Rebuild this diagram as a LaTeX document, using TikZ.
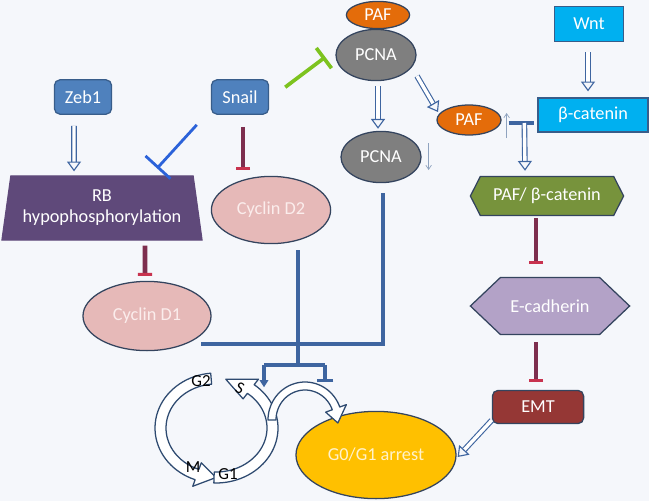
\documentclass[tikz,border=0pt]{standalone}
\usepackage{fontspec}
\setmainfont{Carlito}
\usepackage{xcolor}
\usepackage{tikz}
\usetikzlibrary{arrows.meta, calc, shapes.geometric, shapes.symbols}

\definecolor{bgcol}{HTML}{F5F7FB}
\definecolor{boxblue}{HTML}{4F81BD}
\definecolor{edgeblue}{HTML}{385D8A}
\definecolor{outline}{HTML}{34445E}
\definecolor{rbpurple}{HTML}{5F497A}
\definecolor{cycpink}{HTML}{E6B9B8}
\definecolor{cyctext}{HTML}{FBEDEC}
\definecolor{pcnagray}{HTML}{7F7F7F}
\definecolor{paforange}{HTML}{E46C0A}
\definecolor{wntcyan}{HTML}{00B0F0}
\definecolor{complexgreen}{HTML}{77933C}
\definecolor{ecadlilac}{HTML}{B3A2C7}
\definecolor{emtred}{HTML}{953735}
\definecolor{arrestyellow}{HTML}{FFC000}
\definecolor{arresttext}{HTML}{FFF2CC}
\definecolor{linkblue}{HTML}{3E65A0}
\definecolor{inhibmaroon}{HTML}{7D2E4E}
\definecolor{barred}{HTML}{C8334F}
\definecolor{snailblue}{HTML}{2B62D9}
\definecolor{pcnagreen}{HTML}{7DC31F}
\definecolor{thingray}{HTML}{8FA3BF}
\definecolor{cycleedge}{HTML}{2E4A70}

\tikzset{
  lab/.style={font=\fontsize{13}{15}\selectfont, text=white, inner sep=1pt, line width=0.9pt},
  genebox/.style={lab, rectangle, rounded corners=4pt, draw=edgeblue, fill=boxblue, minimum width=1.43cm, minimum height=0.86cm},
  wntbox/.style={lab, rectangle, draw=edgeblue, fill=wntcyan, minimum width=1.73cm, minimum height=0.88cm},
  pafoval/.style={lab, ellipse, draw=outline, fill=paforange, minimum width=1.58cm, minimum height=0.68cm},
  pcnaoval/.style={lab, ellipse, draw=outline, fill=pcnagray, minimum width=2cm, minimum height=1.28cm},
  cyclinoval/.style={lab, ellipse, draw=outline, fill=cycpink, text=cyctext, minimum width=2.98cm, minimum height=1.68cm},
  rbbox/.style={lab, trapezium, trapezium angle=77, trapezium stretches body, draw=rbpurple, fill=rbpurple, align=center, minimum width=5cm, minimum height=1.6cm},
  hexbox/.style={lab, signal, signal to=east and west, draw=outline},
  emtbox/.style={lab, rectangle, rounded corners=4pt, draw=outline, fill=emtred, minimum width=2.28cm, minimum height=0.83cm},
  arrestoval/.style={lab, ellipse, draw=outline, fill=arrestyellow, text=arresttext, minimum width=4cm, minimum height=2.18cm},
  phase/.style={font=\fontsize{12}{14}\selectfont, text=black, inner sep=0pt},
  hollow/.style={draw=linkblue, line width=0.8pt, double=white, double distance=2.4pt, -{Triangle[open, length=7pt, width=10pt]}},
  inhib/.style={draw=inhibmaroon, line width=3.4pt, -{Bar[width=10pt, line width=2pt, color=barred]}},
  snailinhib/.style={draw=snailblue, line width=2pt, -{Bar[width=24pt]}},
  pcnainhib/.style={draw=pcnagreen, line width=2.6pt, -{Bar[width=18pt]}},
  bluebar/.style={draw=linkblue, line width=2.6pt},
  thinarrow/.style={draw=thingray, line width=0.5pt, -{Straight Barb[length=3pt, width=4pt]}},
  cyc/.style={draw=cycleedge, fill=white, line width=0.9pt, line join=round}
}

% curved block arrow: start, end, tip angle, outer rx, outer ry, inner rx, inner ry
\newcommand{\cyclearrow}[7]{%
  \draw[cyc] plot[domain=#1:#2, samples=40] ({#4*cos(\x)},{#5*sin(\x)})
    -- ({(#4+7)*cos(#2)},{(#5+7)*sin(#2)})
    -- ({(#4+#6)/2*cos(#3)},{(#5+#7)/2*sin(#3)})
    -- ({(#6-7)*cos(#2)},{(#7-7)*sin(#2)})
    -- plot[domain=#2:#1, samples=40] ({#6*cos(\x)},{#7*sin(\x)}) -- cycle;}

\begin{document}
\begin{tikzpicture}[x=0.025cm, y=-0.025cm]
    \fill[bgcol] (0,0) rectangle (649,501);
    \useasboundingbox (0,0) rectangle (649,501);

    % Left branch
    \node[genebox] (zeb) at (83,97) {Zeb1};
    \node[genebox] (snail) at (240,97) {Snail};
    \node[rbbox] (rb) at (102,208) {RB\\hypophosphorylation};
    \node[cyclinoval] (cycd2) at (271,210) {Cyclin D2};
    \node[cyclinoval, minimum width=3.2cm, minimum height=1.73cm] (cycd1) at (147,316) {Cyclin D1};

    % PCNA / PAF
    \node[pafoval] (paftop) at (378,15) {PAF};
    \node[pcnaoval] (pcnatop) at (376,55) {PCNA};
    \node[pcnaoval] (pcnalow) at (381,157) {PCNA};
    \node[pafoval, minimum width=1.6cm, minimum height=0.75cm] (pafmid) at (469,120) {PAF};

    % Wnt branch
    \node[wntbox] (wnt) at (589,24) {Wnt};
    \node[wntbox, minimum width=2.75cm, minimum height=0.85cm] (bcat) at (593,115) {β-catenin};
    \node[hexbox, fill=complexgreen, minimum width=3.83cm, minimum height=0.98cm, signal pointer angle=126] (pbc) at (547,196) {PAF/ β-catenin};
    \node[hexbox, fill=ecadlilac, minimum width=3.98cm, minimum height=1.43cm, signal pointer angle=87] (ecad) at (550,306) {E-cadherin};
    \node[emtbox] (emt) at (538,407) {EMT};
    \node[arrestoval] (arrest) at (376,455) {G0/G1 arrest};

    % Links
    \draw[hollow] ($(zeb.south)+(-9,11)$) -- ($(rb.north)+(-28,-4)$);
    \draw[inhib] ($(snail.south)+(3,12)$) -- ($(cycd2.north)+(-28,-6)$);
    \draw[snailinhib] ($(snail.south west)+(-14,10)$) -- ($(rb.north)+(55,-7)$);
    \draw[pcnainhib] ($(snail.north east)+(16,8)$) -- ($(pcnatop.west)+(-10,2)$);
    \draw[hollow] ($(pcnatop.south)+(2,5)$) -- ($(pcnalow.north)+(-3,-2)$);
    \draw[hollow] ($(pcnatop.center)+(41,21)$) -- ($(pafmid.center)+(-31,-8)$);
    \draw[thinarrow] ($(pcnalow.east)+(7,-14)$) -- ($(pcnalow.east)+(7,13)$);
    \draw[thinarrow] ($(pafmid.east)+(5,18)$) -- ($(pafmid.east)+(5,-7)$);
    \draw[hollow] ($(wnt.south)+(-1,10)$) -- ($(bcat.north)+(-5,-6)$);
    \coordinate (tjoin) at ($(bcat.west)+(-13,8)$);
    \draw[bluebar] ($(pafmid.east)+(7,3)$) -- ($(bcat.west)+(-3,8)$);
    \draw[hollow] (tjoin) -- ($(pbc.north)+(-22,-5)$);
    \draw[inhib] ($(pbc.south)+(-11,2)$) -- ($(ecad.north)+(-14,-13)$);
    \draw[inhib] ($(ecad.south)+(-14,7)$) -- ($(emt.north)+(-2,-8)$);
    \draw[inhib] ($(rb.south)+(43,5)$) -- ($(cycd1.north)+(-2,-5)$);
    \draw[hollow] ($(emt.south west)+(0,-4)$) -- ($(arrest.east)+(1,2)$);

    % Cyclin / PCNA feed into the cycle
    \draw[bluebar] ($(pcnalow.south)+(2,10)$) |- ($(cycd1.south east)+(8,3)$);
    \coordinate (fork) at ($(cycd2.south)+(27,121)$);
    \coordinate (toS) at ($(fork)+(-34,22)$);
    \coordinate (toArrest) at ($(fork)+(27,17)$);
    \draw[bluebar] ($(cycd2.south)+(27,6)$) -- (fork);
    \draw[bluebar] (toS |- fork) -- (toArrest |- fork);
    \draw[bluebar, -{Triangle[length=5pt, width=6pt]}] (toS |- fork) -- (toS);
    \draw[bluebar, -{Bar[width=12pt]}] (toArrest |- fork) -- (toArrest);

    % Cell cycle
    \begin{scope}[shift={(216,428)}, yscale=-1]
        \cyclearrow{95}{250}{270}{61}{55}{50}{44}
        \cyclearrow{-92}{52}{80}{62}{55}{51}{44}
    \end{scope}
    \begin{scope}[shift={(305,420)}, yscale=-1]
        \cyclearrow{180}{20}{-5}{37}{38}{29}{30}
    \end{scope}
    \node[phase] (g2) at (201,381) {G2};
    \node[phase, rotate=-25] (s) at (240,388) {S};
    \node[phase] (m) at (193,467) {M};
    \node[phase] (g1) at (228,474) {G1};
\end{tikzpicture}
\end{document}
